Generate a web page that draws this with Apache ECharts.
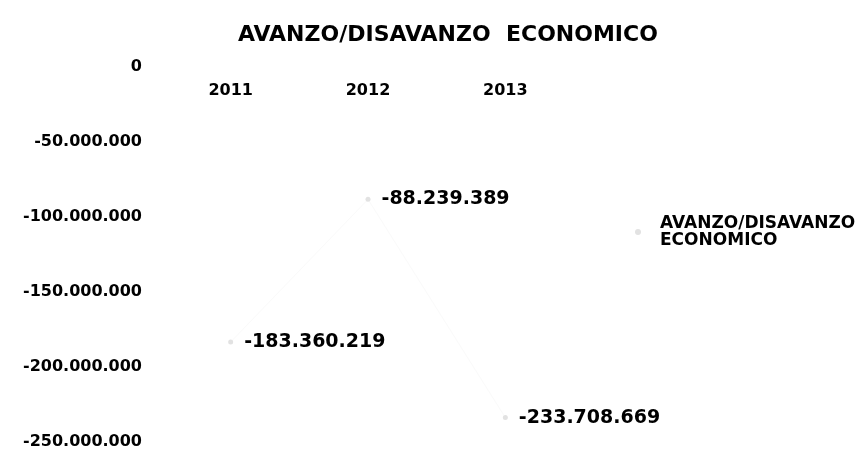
<!DOCTYPE html>
<html><head><meta charset="utf-8">
<script src="https://cdn.jsdelivr.net/npm/echarts@6/dist/echarts.min.js"></script>
<style>html,body{margin:0;padding:0;background:#fff}#c{width:862px;height:452px}</style>
</head><body><div id="c"></div>
<script>
const categories = ['2011', '2012', '2013'];
const values = [-183360219, -88239389, -233708669];
const seriesName = 'AVANZO/DISAVANZO\nECONOMICO';
const titleText = 'AVANZO/DISAVANZO  ECONOMICO';

function fmt(v) {
  const s = Math.abs(v).toString().replace(/\B(?=(\d{3})+(?!\d))/g, '.');
  return (v < 0 ? '-' : '') + s;
}
const FONT = 'DejaVu Sans';
const chart = echarts.init(document.getElementById('c'));
chart.setOption({
  backgroundColor: '#fff',
  animation: false,
  title: {
    text: titleText, left: 233, top: 19,
    textStyle: { fontFamily: FONT, fontWeight: 'bold', fontSize: 22, color: '#000' }
  },
  legend: {
    left: 630, top: 210, orient: 'vertical', itemWidth: 34, itemHeight: 6, itemGap: 24,
    data: [{ name: seriesName, icon: 'circle' }],
    textStyle: { fontFamily: FONT, fontWeight: 'bold', fontSize: 17, color: '#000', lineHeight: 17 }
  },
  grid: { left: 162, right: 288, top: 67, bottom: 10, outerBoundsMode: 'none' },
  xAxis: {
    type: 'category', data: categories, boundaryGap: true, position: 'top',
    axisLine: { show: false }, axisTick: { show: false },
    axisLabel: { inside: true, margin: 16, fontFamily: FONT, fontWeight: 'bold', fontSize: 16, color: '#000' }
  },
  yAxis: {
    type: 'value', min: -250000000, max: 0, interval: 50000000,
    splitLine: { show: false }, axisLine: { show: false }, axisTick: { show: false },
    axisLabel: { margin: 20, formatter: fmt, fontFamily: FONT, fontWeight: 'bold', fontSize: 16, color: '#000' }
  },
  series: [{
    name: seriesName, type: 'line', data: values,
    symbol: 'circle', symbolSize: 5,
    itemStyle: { color: '#e2e2e2' },
    lineStyle: { color: '#fafafa', width: 1 },
    label: {
      show: true, position: 'right', distance: 11, formatter: p => fmt(p.value),
      fontFamily: FONT, fontWeight: 'bold', fontSize: 19, color: '#000'
    }
  }]
});
</script></body></html>
